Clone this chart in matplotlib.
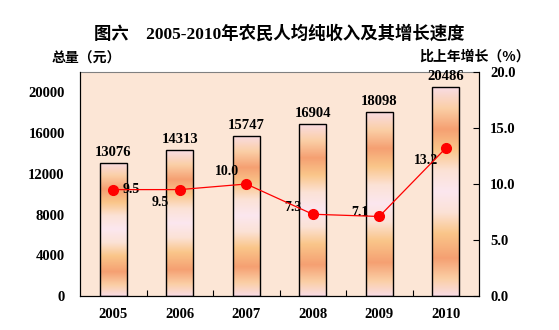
import numpy as np
import matplotlib.pyplot as plt
from matplotlib.colors import LinearSegmentedColormap

plt.rcParams['font.family'] = ['Noto Sans CJK SC', 'DejaVu Sans']

years = ['2005', '2006', '2007', '2008', '2009', '2010']
income = [13076, 14313, 15747, 16904, 18098, 20486]
growth = [9.5, 9.5, 10.0, 7.3, 7.1, 13.2]

# label offsets (points) for the growth values
growth_offsets = [(13, 0), (-14, -9), (-14, 9), (-14, 5), (-14, 3), (-14, -9)]

num_font = dict(family='Liberation Serif', weight='bold')

# banded fill used inside every bar
band = LinearSegmentedColormap.from_list('band', [
    (0.00, '#F9DCE4'), (0.08, '#FBCFA6'), (0.18, '#F5A072'),
    (0.30, '#FAC68A'), (0.40, '#FCE2D6'), (0.50, '#FBE7EF'),
    (0.60, '#FCE2D6'), (0.70, '#FAC68A'), (0.80, '#F5A072'),
    (0.90, '#FBCFA6'), (1.00, '#F9DCE4')])

fig = plt.figure(figsize=(5.59, 3.30), dpi=100)
ax = fig.add_axes([80/559, 34/330, 399/559, 224/330])
ax.set_facecolor('#FCE6D6')

x = np.arange(len(years))
bars = ax.bar(x, income, width=0.4, facecolor='none', edgecolor='black',
              linewidth=1.0, zorder=3)
grad = np.linspace(0, 1, 256).reshape(-1, 1)
for b in bars:
    x0, w, h = b.get_x(), b.get_width(), b.get_height()
    im = ax.imshow(grad, cmap=band, origin='lower', aspect='auto',
                   extent=[x0, x0 + w, 0, h], zorder=2)
    im.set_clip_path(b)
for xi, v in zip(x, income):
    ax.annotate(str(v), (xi, v), xytext=(0, 3), textcoords='offset points',
                ha='center', va='bottom', fontsize=10.5, **num_font)

ax.set_xlim(-0.5, len(years) - 0.5)
ax.set_ylim(0, 22000)
ax.set_yticks(range(0, 22000, 4000))
ax.set_xticks(x)
ax.set_xticklabels(years)
ax.set_xticks(np.arange(0.5, len(years) - 1, 1.0), minor=True)
ax.tick_params(axis='x', which='major', length=0, pad=9)
ax.tick_params(axis='x', which='minor', direction='in', length=4, width=0.8)
ax.tick_params(axis='y', direction='in', length=0, pad=11)
for lab in ax.get_xticklabels() + ax.get_yticklabels():
    lab.set_fontfamily('Liberation Serif')
    lab.set_fontweight('bold')
    lab.set_fontsize(10.5)

ax.spines['top'].set_color('#808080')
ax.spines['top'].set_linestyle((0, (2, 1)))
for s in ['left', 'bottom', 'right']:
    ax.spines[s].set_color('black')

ax2 = ax.twinx()
ax2.set_ylim(0, 20)
ax2.set_yticks([0, 5, 10, 15, 20])
ax2.set_yticklabels(['%.1f' % t for t in [0, 5, 10, 15, 20]])
ax2.tick_params(axis='y', direction='in', length=4, width=0.8, pad=8)
for lab in ax2.get_yticklabels():
    lab.set_fontfamily('Liberation Serif')
    lab.set_fontweight('bold')
    lab.set_fontsize(10.5)
ax2.spines['top'].set_visible(False)
ax2.plot(x, growth, color='red', linewidth=0.9, marker='o', markersize=7,
         markerfacecolor='red', markeredgecolor='red', zorder=5)
for xi, g, off in zip(x, growth, growth_offsets):
    ax2.annotate('%.1f' % g, (xi, g), xytext=off, textcoords='offset points',
                 ha='center', va='center', fontsize=10, **num_font)

fig.text(0.5, 1 - 34/330, '图六　2005-2010年农民人均纯收入及其增长速度',
         ha='center', va='center', fontsize=12.5, fontweight='bold',
         family=['Liberation Serif', 'Noto Sans CJK SC'])
fig.text(52/559, 1 - 59/330, '总量（元）', ha='left', va='center',
         fontsize=10, fontweight='bold')
fig.text(530/559, 1 - 57/330, '比上年增长（%）', ha='right', va='center',
         fontsize=10, fontweight='bold')

fig.savefig('out.png', dpi=100)
